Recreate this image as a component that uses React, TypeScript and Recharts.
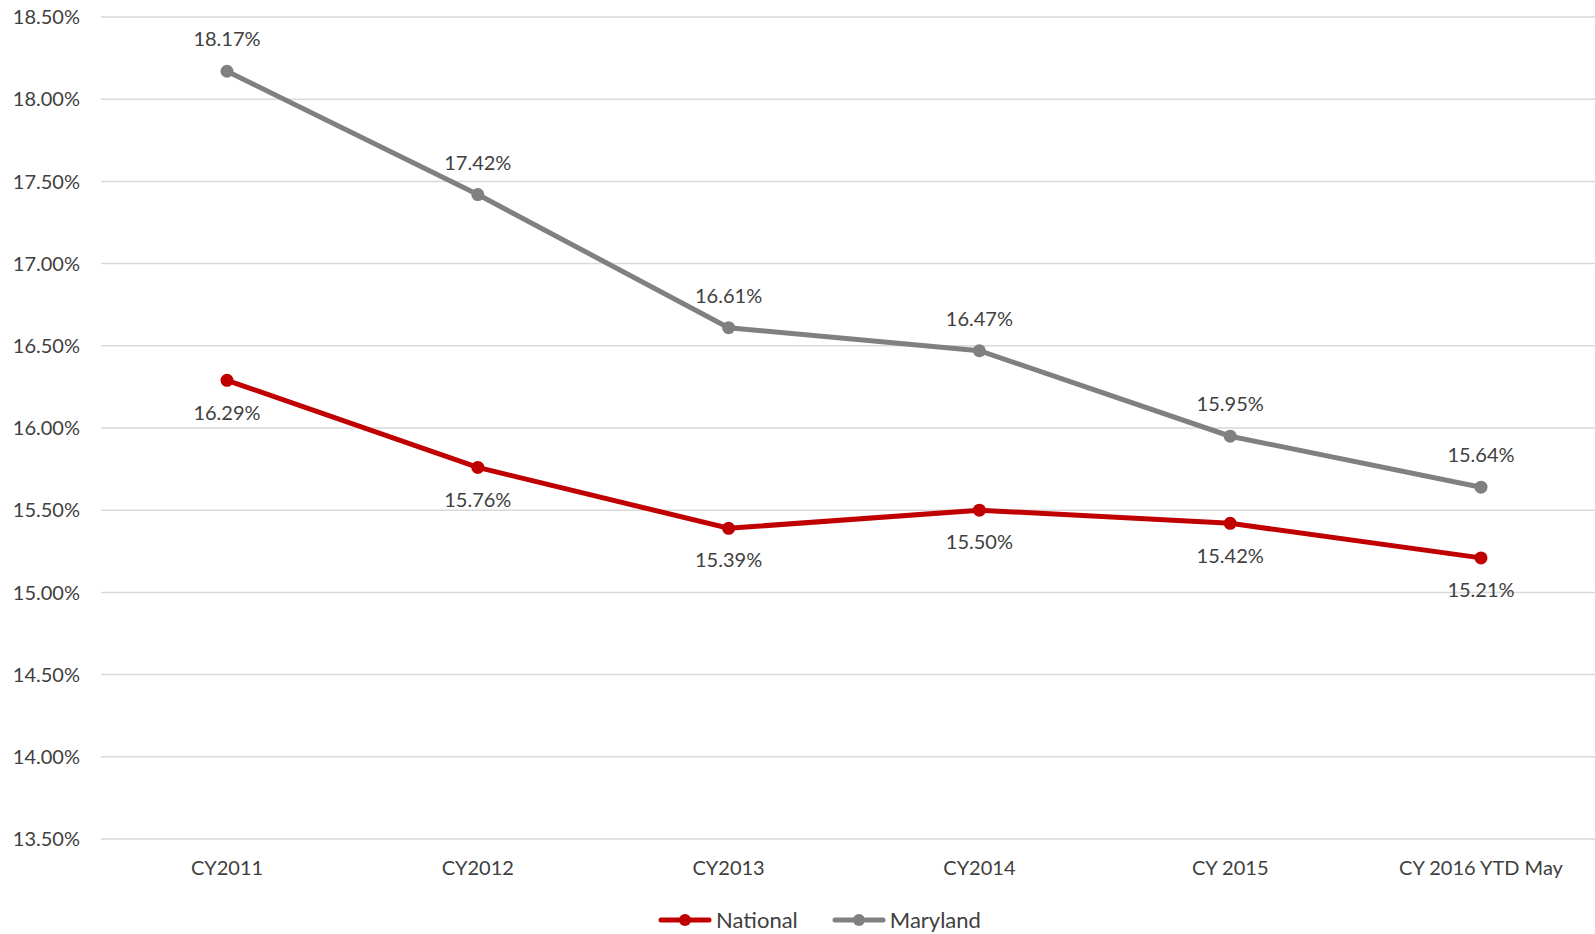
import React from "react";
import {
  LineChart,
  Line,
  XAxis,
  YAxis,
  CartesianGrid,
  Legend,
  LabelList,
} from "recharts";

const categories = ["CY2011", "CY2012", "CY2013", "CY2014", "CY 2015", "CY 2016 YTD May"];
const national = [16.29, 15.76, 15.39, 15.5, 15.42, 15.21];
const maryland = [18.17, 17.42, 16.61, 16.47, 15.95, 15.64];
const yTicks = [13.5, 14, 14.5, 15, 15.5, 16, 16.5, 17, 17.5, 18, 18.5];

const RED = "#C00000";
const GRAY = "#808080";
const TEXT = "#404040";
const FONT = "Lato, 'Open Sans', sans-serif";

const data = categories.map((c, i) => ({
  name: c,
  national: national[i],
  maryland: maryland[i],
}));

const pct = (v: any) => `${Number(v).toFixed(2)}%`;

function LegendContent() {
  const items = [
    { label: "National", color: RED },
    { label: "Maryland", color: GRAY },
  ];
  return (
    <div style={{ display: "flex", justifyContent: "center", gap: 34, fontFamily: FONT, paddingLeft: 44 }}>
      {items.map((it) => (
        <div key={it.label} style={{ display: "flex", alignItems: "center" }}>
          <svg width={54} height={14} style={{ marginRight: 4 }}>
            <line x1={3} y1={7} x2={51} y2={7} stroke={it.color} strokeWidth={5} strokeLinecap="round" />
            <circle cx={27} cy={7} r={6} fill={it.color} />
          </svg>
          <span style={{ fontSize: 22, color: TEXT }}>{it.label}</span>
        </div>
      ))}
    </div>
  );
}

export default function App() {
  return (
    <div style={{ position: "absolute", left: 0, top: 0, width: 1595, height: 934, background: "#fff" }}>
      <LineChart
        width={1595}
        height={934}
        data={data}
        margin={{ top: 17, right: 0, bottom: 1, left: 0 }}
      >
        <CartesianGrid vertical={false} stroke="#D9D9D9" strokeWidth={1.5} />
        <XAxis
          dataKey="name"
          axisLine={false}
          tickLine={false}
          tickSize={0}
          tickMargin={22}
          height={67}
          padding={{ left: 126, right: 114 }}
          tick={{ fontSize: 20, fill: TEXT, fontFamily: FONT }}
          interval={0}
        />
        <YAxis
          domain={[13.5, 18.5]}
          ticks={yTicks}
          axisLine={false}
          tickLine={false}
          tickSize={0}
          tickMargin={21}
          width={101}
          tickFormatter={pct}
          tick={{ fontSize: 20, fill: TEXT, fontFamily: FONT }}
        />
        <Legend verticalAlign="bottom" content={<LegendContent />} />
        <Line
          type="linear"
          dataKey="national"
          name="National"
          stroke={RED}
          strokeWidth={5}
          dot={{ r: 6.5, fill: RED, stroke: RED, strokeWidth: 0 }}
          isAnimationActive={false}
        >
          <LabelList
            dataKey="national"
            position="bottom"
            offset={25}
            formatter={pct}
            style={{ fontSize: 20, fill: TEXT, fontFamily: FONT }}
          />
        </Line>
        <Line
          type="linear"
          dataKey="maryland"
          name="Maryland"
          stroke={GRAY}
          strokeWidth={5}
          dot={{ r: 6.5, fill: GRAY, stroke: GRAY, strokeWidth: 0 }}
          isAnimationActive={false}
        >
          <LabelList
            dataKey="maryland"
            position="top"
            offset={25}
            formatter={pct}
            style={{ fontSize: 20, fill: TEXT, fontFamily: FONT }}
          />
        </Line>
      </LineChart>
    </div>
  );
}
